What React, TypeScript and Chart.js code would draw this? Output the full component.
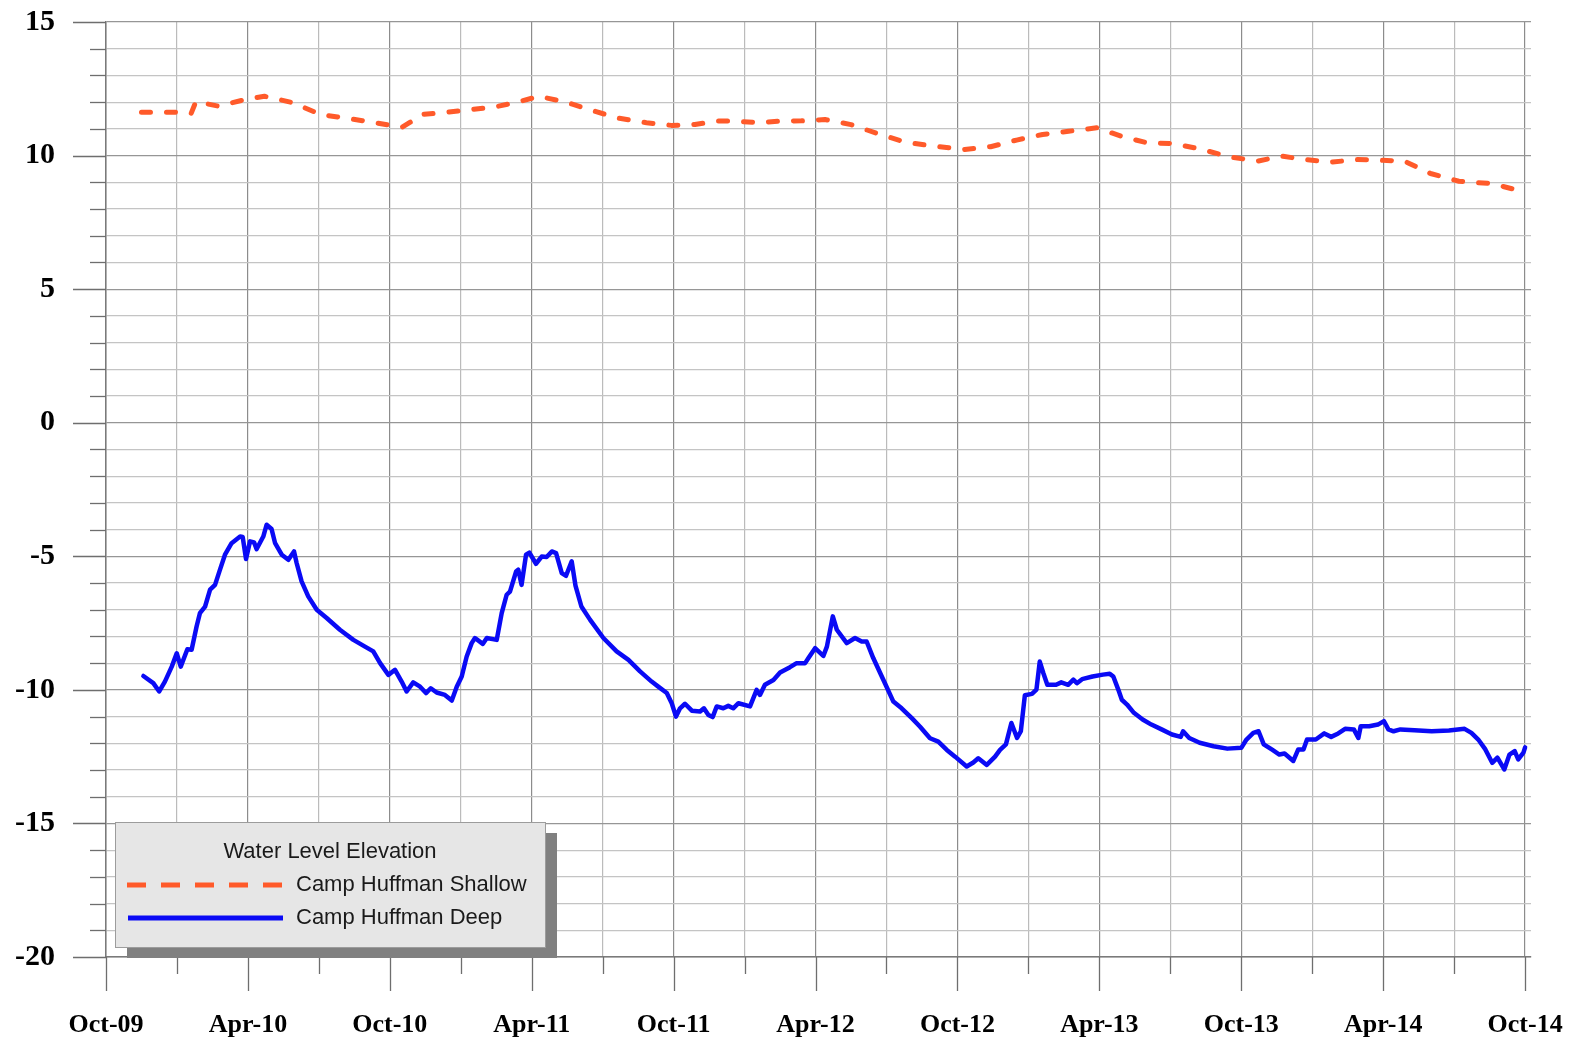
import React, { useEffect, useRef } from 'react';
import { Chart, registerables } from 'chart.js';

Chart.register(...registerables);

// ---- Data (x = months since Oct-2009) ----
const xTickLabels = ['Oct-09', 'Apr-10', 'Oct-10', 'Apr-11', 'Oct-11', 'Apr-12', 'Oct-12', 'Apr-13', 'Oct-13', 'Apr-14', 'Oct-14'];
const xTickMonths = [0, 3, 6, 9, 12, 15, 18, 21, 24, 27, 30, 33, 36, 39, 42, 45, 48, 51, 54, 57, 60];
const yMin = -20;
const yMax = 15;

const legendTitle = 'Water Level Elevation';
const shallowName = 'Camp Huffman Shallow';
const deepName = 'Camp Huffman Deep';

const shallowMonths = [1.5, 2.9, 3.6, 3.8, 4.75, 5.8, 6.7, 7.9, 9.06, 10.3, 11.4, 12.5, 13.4, 14.5, 15.5, 16.5, 17.4, 18.3, 19.45, 20.4, 21.6, 22.85, 23.9, 24.9, 25.8, 26.55, 27.6, 28.5, 29.4, 30.4, 31.5, 32.6, 33.8, 35.0, 36.3, 37.4, 38.5, 39.6, 40.7, 41.9, 42.9, 44.0, 45.1, 46.25, 47.5, 48.7, 49.7, 50.7, 51.8, 52.85, 53.8, 54.9, 56.0, 57.2, 58.6, 59.7, 60.0];
const shallowLevels = [11.62, 11.62, 11.58, 12.02, 11.85, 12.08, 12.22, 11.98, 11.54, 11.38, 11.23, 11.05, 11.54, 11.63, 11.73, 11.83, 12.0, 12.22, 12.0, 11.73, 11.41, 11.23, 11.13, 11.16, 11.29, 11.29, 11.23, 11.29, 11.3, 11.35, 11.16, 10.83, 10.5, 10.35, 10.23, 10.33, 10.58, 10.79, 10.91, 11.04, 10.73, 10.48, 10.45, 10.25, 9.95, 9.79, 9.98, 9.85, 9.75, 9.85, 9.83, 9.79, 9.33, 9.04, 8.95, 8.7, 8.6];

const deepMonths = [1.58, 2.0, 2.25, 2.49, 2.78, 2.99, 3.16, 3.44, 3.62, 3.83, 3.97, 4.19, 4.4, 4.61, 4.82, 5.03, 5.31, 5.67, 5.78, 5.92, 6.09, 6.26, 6.37, 6.65, 6.79, 7.0, 7.15, 7.43, 7.71, 7.95, 8.06, 8.27, 8.55, 8.91, 9.33, 9.89, 10.46, 10.95, 11.3, 11.59, 11.94, 12.22, 12.5, 12.71, 12.99, 13.28, 13.53, 13.73, 13.98, 14.33, 14.62, 14.83, 15.04, 15.25, 15.46, 15.6, 15.93, 16.1, 16.52, 16.73, 16.94, 17.08, 17.34, 17.43, 17.57, 17.76, 17.9, 18.18, 18.42, 18.63, 18.85, 19.03, 19.27, 19.45, 19.69, 19.85, 20.1, 20.47, 21.03, 21.59, 22.09, 22.58, 23.07, 23.35, 23.71, 23.92, 24.1, 24.27, 24.48, 24.77, 25.12, 25.28, 25.47, 25.65, 25.82, 26.1, 26.31, 26.52, 26.74, 27.23, 27.51, 27.65, 27.86, 28.22, 28.5, 28.92, 29.2, 29.56, 29.7, 29.98, 30.33, 30.48, 30.73, 30.9, 31.32, 31.67, 31.95, 32.16, 32.44, 32.87, 33.29, 33.64, 34.07, 34.42, 34.84, 35.19, 35.55, 35.9, 36.39, 36.67, 36.88, 37.24, 37.59, 37.8, 38.05, 38.28, 38.52, 38.68, 38.85, 39.15, 39.34, 39.48, 39.63, 39.8, 40.17, 40.39, 40.68, 40.9, 41.05, 41.27, 41.71, 42.15, 42.44, 42.59, 42.8, 42.95, 43.17, 43.46, 43.83, 44.2, 44.63, 45.07, 45.44, 45.54, 45.8, 46.24, 46.83, 47.41, 48.0, 48.22, 48.51, 48.73, 48.95, 49.32, 49.61, 49.83, 50.2, 50.41, 50.63, 50.78, 51.15, 51.51, 51.8, 52.1, 52.39, 52.76, 52.95, 53.05, 53.41, 53.78, 54.03, 54.22, 54.44, 54.73, 55.32, 56.05, 56.78, 57.44, 57.73, 58.02, 58.32, 58.61, 58.83, 59.12, 59.34, 59.56, 59.71, 59.93, 60.0];
const deepLevels = [-9.48, -9.75, -10.06, -9.69, -9.13, -8.63, -9.13, -8.48, -8.5, -7.63, -7.13, -6.88, -6.25, -6.07, -5.5, -4.94, -4.51, -4.26, -4.28, -5.1, -4.44, -4.48, -4.73, -4.26, -3.82, -3.98, -4.51, -4.94, -5.13, -4.82, -5.25, -5.94, -6.5, -7.0, -7.31, -7.75, -8.13, -8.38, -8.56, -9.0, -9.44, -9.25, -9.69, -10.06, -9.72, -9.88, -10.12, -9.94, -10.1, -10.19, -10.4, -9.88, -9.5, -8.75, -8.25, -8.06, -8.28, -8.06, -8.13, -7.13, -6.44, -6.32, -5.57, -5.5, -6.07, -4.94, -4.86, -5.28, -5.01, -5.03, -4.82, -4.88, -5.63, -5.73, -5.19, -6.1, -6.88, -7.38, -8.06, -8.56, -8.88, -9.31, -9.69, -9.88, -10.12, -10.5, -11.0, -10.69, -10.52, -10.78, -10.81, -10.69, -10.94, -11.02, -10.62, -10.69, -10.6, -10.69, -10.5, -10.62, -10.0, -10.19, -9.81, -9.63, -9.35, -9.15, -9.0, -9.0, -8.81, -8.44, -8.73, -8.38, -7.25, -7.75, -8.25, -8.06, -8.19, -8.19, -8.81, -9.63, -10.44, -10.69, -11.06, -11.38, -11.81, -11.94, -12.25, -12.5, -12.87, -12.72, -12.56, -12.81, -12.5, -12.25, -12.04, -11.24, -11.8, -11.55, -10.2, -10.15, -9.99, -8.94, -9.37, -9.81, -9.81, -9.72, -9.81, -9.62, -9.75, -9.6, -9.5, -9.43, -9.4, -9.5, -9.99, -10.37, -10.55, -10.86, -11.11, -11.3, -11.48, -11.67, -11.76, -11.55, -11.8, -11.98, -12.11, -12.2, -12.17, -11.86, -11.61, -11.55, -12.04, -12.25, -12.42, -12.38, -12.66, -12.23, -12.23, -11.86, -11.86, -11.63, -11.76, -11.63, -11.46, -11.48, -11.8, -11.36, -11.36, -11.3, -11.17, -11.48, -11.55, -11.48, -11.51, -11.55, -11.52, -11.46, -11.61, -11.86, -12.23, -12.73, -12.54, -12.98, -12.42, -12.29, -12.6, -12.35, -12.15];

const ORANGE = '#ff5a2a';
const BLUE = '#0a0af5';
const SERIF = '"Liberation Serif", "Times New Roman", serif';
const SANS = '"Liberation Sans", Arial, sans-serif';

const decorPlugin = {
  id: 'decor',
  afterDraw(chart: any) {
    const ctx = chart.ctx as CanvasRenderingContext2D;
    const xs = chart.scales.x;
    const ys = chart.scales.y;
    const { left, bottom } = chart.chartArea;
    ctx.save();
    // tick marks
    ctx.strokeStyle = '#6e6e6e';
    ctx.lineWidth = 1.3;
    for (let v = yMin; v <= yMax; v++) {
      const py = Math.round(ys.getPixelForValue(v)) + 0.5;
      const len = v % 5 === 0 ? 33 : 16;
      ctx.beginPath();
      ctx.moveTo(left - len, py);
      ctx.lineTo(left, py);
      ctx.stroke();
    }
    for (const m of xTickMonths) {
      const px = Math.round(xs.getPixelForValue(m)) + 0.5;
      const len = m % 6 === 0 ? 34 : 17;
      ctx.beginPath();
      ctx.moveTo(px, bottom);
      ctx.lineTo(px, bottom + len);
      ctx.stroke();
    }

    // legend box
    const bx = left + 9;
    const by = bottom - 135;
    const bw = 430;
    const bh = 125;
    ctx.fillStyle = '#808080';
    ctx.fillRect(bx + 12, by + 11, bw, bh);
    ctx.fillStyle = '#e6e6e6';
    ctx.fillRect(bx, by, bw, bh);
    ctx.strokeStyle = '#9c9c9c';
    ctx.lineWidth = 1;
    ctx.strokeRect(bx + 0.5, by + 0.5, bw, bh);

    ctx.fillStyle = '#1a1a1a';
    ctx.font = `22px ${SANS}`;
    ctx.textAlign = 'center';
    ctx.textBaseline = 'middle';
    ctx.fillText(legendTitle, bx + 215, by + 30);

    ctx.lineCap = 'butt';
    ctx.strokeStyle = ORANGE;
    ctx.lineWidth = 5;
    ctx.setLineDash([19, 15]);
    ctx.beginPath();
    ctx.moveTo(bx + 12, by + 63);
    ctx.lineTo(bx + 168, by + 63);
    ctx.stroke();
    ctx.setLineDash([]);
    ctx.strokeStyle = BLUE;
    ctx.beginPath();
    ctx.moveTo(bx + 13, by + 96);
    ctx.lineTo(bx + 168, by + 96);
    ctx.stroke();

    ctx.fillStyle = '#1a1a1a';
    ctx.textAlign = 'left';
    ctx.fillText(shallowName, bx + 181, by + 63);
    ctx.fillText(deepName, bx + 181, by + 96);
    ctx.restore();
  },
};

const zeroPadding = (s: any) => {
  s.paddingTop = 0;
  s.paddingBottom = 0;
  s.paddingLeft = 0;
  s.paddingRight = 0;
};

export default function App() {
  const ref = useRef<HTMLCanvasElement | null>(null);
  useEffect(() => {
    if (!ref.current) return;
    const chart = new Chart(ref.current, {
      type: 'line',
      data: {
        datasets: [
          {
            label: shallowName,
            data: shallowMonths.map((m, i) => ({ x: m, y: shallowLevels[i] })),
            borderColor: ORANGE,
            borderWidth: 5,
            borderDash: [9, 16],
            borderCapStyle: 'round',
            borderJoinStyle: 'round',
            pointRadius: 0,
            tension: 0,
            fill: false,
          },
          {
            label: deepName,
            data: deepMonths.map((m, i) => ({ x: m, y: deepLevels[i] })),
            borderColor: BLUE,
            borderWidth: 4.5,
            borderJoinStyle: 'round',
            borderCapStyle: 'round',
            pointRadius: 0,
            tension: 0,
            fill: false,
          },
        ],
      },
      options: {
        responsive: false,
        animation: false,
        devicePixelRatio: 1,
        layout: { padding: { top: 22, right: 43, left: 0, bottom: 0 } },
        plugins: { legend: { display: false }, tooltip: { enabled: false } },
        scales: {
          x: {
            type: 'linear',
            min: 0,
            max: 60.25,
            afterBuildTicks: (s: any) => {
              s.ticks = xTickMonths.map((v) => ({ value: v }));
            },
            afterFit: (s: any) => {
              s.height = 85;
              zeroPadding(s);
            },
            grid: {
              drawTicks: false,
              color: (c: any) => (c.tick && c.tick.value % 6 === 0 ? '#8c8c8c' : '#bbbbbb'),
              lineWidth: 1.2,
            },
            border: { color: '#7a7a7a', width: 1.5 },
            ticks: {
              autoSkip: false,
              maxRotation: 0,
              padding: 53,
              color: '#000',
              font: { family: SERIF, size: 26, weight: 'bold' },
              callback: (v: any) => {
                const n = Number(v);
                return n % 6 === 0 ? xTickLabels[n / 6] : '';
              },
            },
          },
          y: {
            type: 'linear',
            min: yMin,
            max: yMax,
            afterFit: (s: any) => {
              s.width = 106;
              zeroPadding(s);
            },
            grid: {
              drawTicks: false,
              color: (c: any) => (c.tick && c.tick.value % 5 === 0 ? '#969696' : '#c4c4c4'),
              lineWidth: 1.2,
            },
            border: { color: '#7a7a7a', width: 1.5 },
            ticks: {
              stepSize: 1,
              autoSkip: false,
              padding: 51,
              color: '#000',
              font: { family: SERIF, size: 30, weight: 'bold' },
              callback: (v: any) => (Number(v) % 5 === 0 ? String(v) : ''),
            },
          },
        },
      },
      plugins: [decorPlugin],
    });
    return () => chart.destroy();
  }, []);
  return (
    <div style={{ position: 'absolute', left: 0, top: 0, width: 1574, height: 1042, background: '#fff' }}>
      <canvas ref={ref} width={1574} height={1042} />
    </div>
  );
}
